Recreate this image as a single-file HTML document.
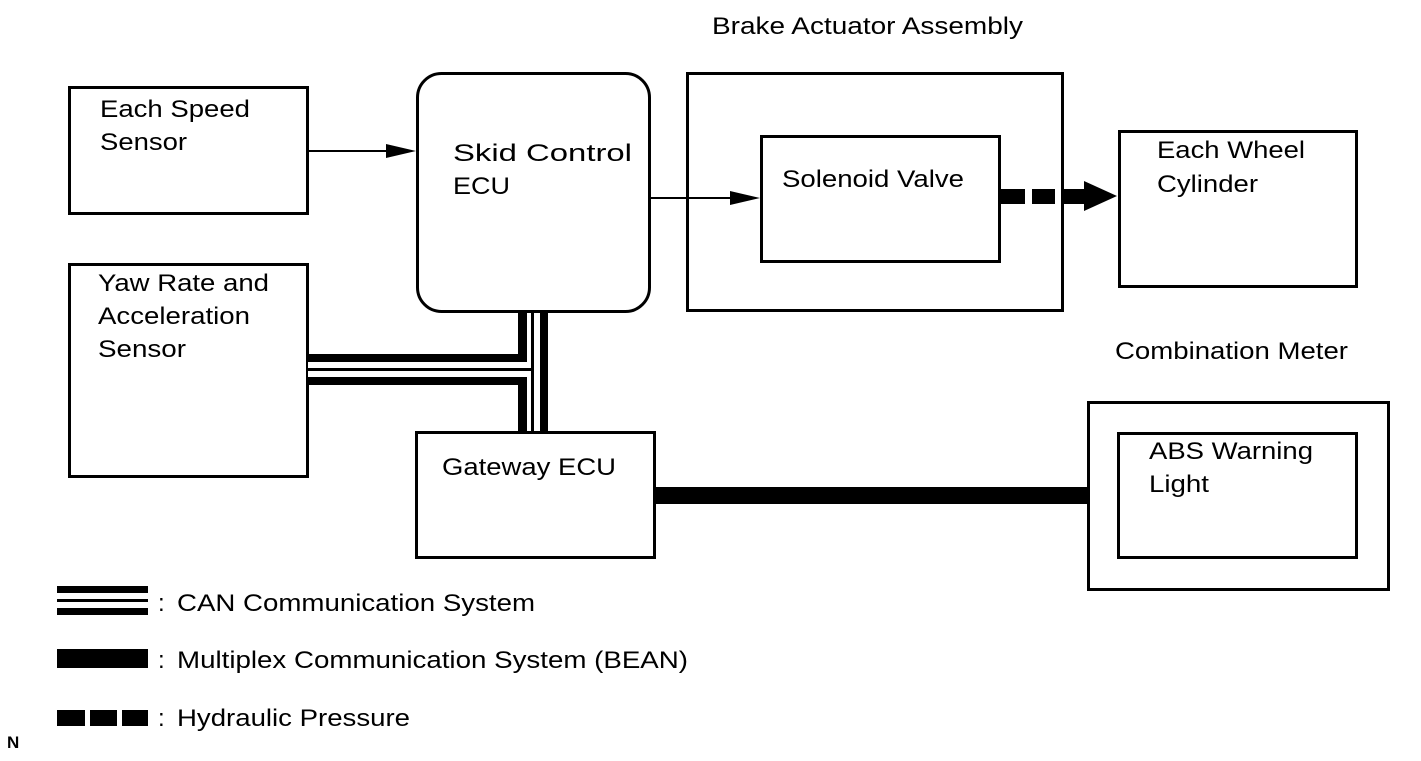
<!DOCTYPE html>
<html><head><meta charset="utf-8"><style>
body{margin:0;background:#fff}
svg text{font-family:"Liberation Sans",sans-serif;font-size:24px;fill:#000}
</style></head><body>
<svg width="1421" height="756" viewBox="0 0 1421 756" xmlns="http://www.w3.org/2000/svg">
<g fill="none" stroke="#000" stroke-width="3">
<rect x="69.5" y="87.5" width="238" height="126"/>
<rect x="417.5" y="73.5" width="232" height="238" rx="24"/>
<rect x="69.5" y="264.5" width="238" height="212"/>
<rect x="416.5" y="432.5" width="238" height="125"/>
<rect x="687.5" y="73.5" width="375" height="237"/>
<rect x="761.5" y="136.5" width="238" height="125"/>
<rect x="1119.5" y="131.5" width="237" height="155"/>
<rect x="1088.5" y="402.5" width="300" height="187"/>
<rect x="1118.5" y="433.5" width="238" height="124"/>
</g>
<line x1="308" y1="151" x2="390" y2="151" stroke="#000" stroke-width="2"/>
<polygon points="386,144 416,151 386,158" fill="#000"/>
<line x1="650" y1="198" x2="735" y2="198" stroke="#000" stroke-width="2"/>
<polygon points="730,191 760,198 730,205" fill="#000"/>
<rect x="1001" y="189" width="24" height="15" fill="#000"/>
<rect x="1032" y="189" width="23" height="15" fill="#000"/>
<rect x="1062" y="189" width="24" height="15" fill="#000"/>
<polygon points="1084,181 1117,196 1084,211" fill="#000"/>
<rect x="518" y="313" width="9" height="118" fill="#000"/>
<rect x="308" y="354" width="219" height="8" fill="#000"/>
<rect x="308" y="377" width="219" height="8" fill="#000"/>
<rect x="308" y="362" width="223" height="15" fill="#fff"/>
<rect x="308" y="368" width="226" height="3" fill="#000"/>
<rect x="531" y="313" width="3" height="118" fill="#000"/>
<rect x="540" y="313" width="8" height="118" fill="#000"/>
<rect x="655" y="487" width="433" height="17" fill="#000"/>
<rect x="57" y="586" width="91" height="7" fill="#000"/>
<rect x="57" y="599" width="91" height="3" fill="#000"/>
<rect x="57" y="608" width="91" height="7" fill="#000"/>
<rect x="57" y="649" width="91" height="19" fill="#000"/>
<rect x="57" y="710" width="28" height="16" fill="#000"/>
<rect x="90" y="710" width="27" height="16" fill="#000"/>
<rect x="122" y="710" width="26" height="16" fill="#000"/>
<text x="158" y="611">:</text><text x="177" y="611" textLength="358" lengthAdjust="spacingAndGlyphs">CAN Communication System</text>
<text x="158" y="668">:</text><text x="177" y="668" textLength="511" lengthAdjust="spacingAndGlyphs">Multiplex Communication System (BEAN)</text>
<text x="158" y="726">:</text><text x="177" y="726" textLength="233" lengthAdjust="spacingAndGlyphs">Hydraulic Pressure</text>
<text x="7" y="748" style="font-size:17px;font-weight:bold">N</text>
<text x="100" y="117" textLength="150" lengthAdjust="spacingAndGlyphs">Each Speed</text><text x="100" y="150" textLength="87" lengthAdjust="spacingAndGlyphs">Sensor</text>
<text x="453" y="161" textLength="179" lengthAdjust="spacingAndGlyphs">Skid Control</text><text x="453" y="194" textLength="57" lengthAdjust="spacingAndGlyphs">ECU</text>
<text x="98" y="291" textLength="171" lengthAdjust="spacingAndGlyphs">Yaw Rate and</text><text x="98" y="324" textLength="152" lengthAdjust="spacingAndGlyphs">Acceleration</text><text x="98" y="357" textLength="88" lengthAdjust="spacingAndGlyphs">Sensor</text>
<text x="442" y="475" textLength="174" lengthAdjust="spacingAndGlyphs">Gateway ECU</text>
<text x="712" y="34" textLength="311" lengthAdjust="spacingAndGlyphs">Brake Actuator Assembly</text>
<text x="782" y="187" textLength="182" lengthAdjust="spacingAndGlyphs">Solenoid Valve</text>
<text x="1157" y="158" textLength="148" lengthAdjust="spacingAndGlyphs">Each Wheel</text><text x="1157" y="192" textLength="101" lengthAdjust="spacingAndGlyphs">Cylinder</text>
<text x="1115" y="359" textLength="233" lengthAdjust="spacingAndGlyphs">Combination Meter</text>
<text x="1149" y="459" textLength="164" lengthAdjust="spacingAndGlyphs">ABS Warning</text><text x="1149" y="492" textLength="60" lengthAdjust="spacingAndGlyphs">Light</text>
</svg>
</body></html>
